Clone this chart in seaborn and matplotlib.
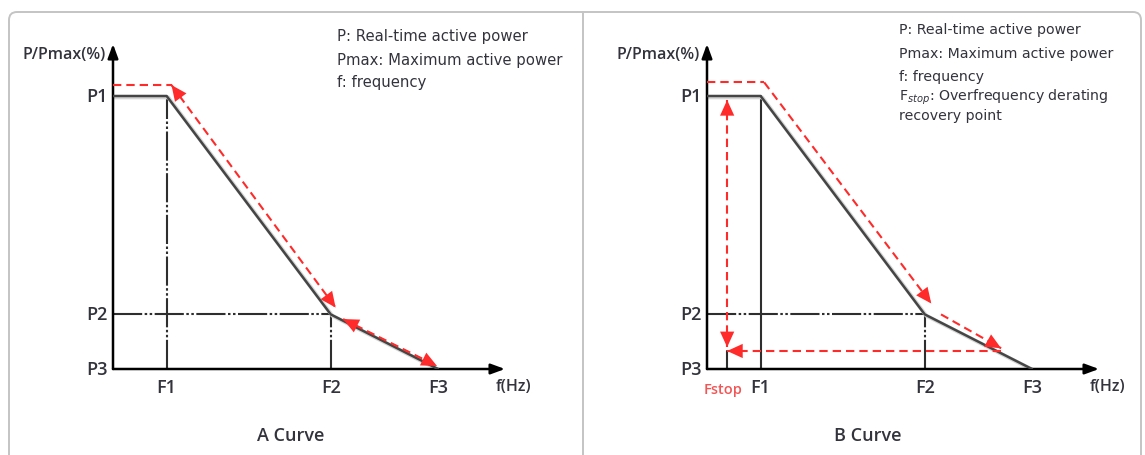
import numpy as np
import matplotlib
matplotlib.use("Agg")
import matplotlib.pyplot as plt
import seaborn as sns
from matplotlib.patches import FancyBboxPatch

# schematic positions (frequency: F3 = 1, power in % of Pmax)
freq_names = ['F1', 'F2', 'F3']
freq_vals = [0.165, 0.67, 1.0]
fstop = 0.062
power_names = ['P1', 'P2', 'P3']
power_vals = [100, 20, 0]
p_recover = 6.6

# red dashed paths (x, y)
red_a_top = [(0, 104), (0.18, 104)]
red_a_diag = [(0.18, 104), (0.685, 22.5)]
red_a_tail = [(0.708, 18.3), (0.997, 1.1)]
red_b_top = [(0, 105), (0.176, 105)]
red_b_diag = [(0.176, 105), (0.69, 24)]
red_b_tail = [(0.72, 20), (0.905, 7.6)]
red_b_back = [(0.905, p_recover), (fstop, p_recover)]
red_b_up = [(fstop, 8.0), (fstop, 98.5)]

notes_a = ['P: Real-time active power', 'Pmax: Maximum active power', 'f: frequency']
notes_b = notes_a + ['F$_{stop}$: Overfrequency derating', 'recovery point']

RED = '#ff2a2a'
INK = '#33333d'

sns.set_theme(style='white')
plt.rcParams['font.family'] = ['Open Sans', 'DejaVu Sans']
plt.rcParams['mathtext.fontset'] = 'dejavusans'

W, H = 1145, 456
fig = plt.figure(figsize=(W / 100, H / 100), dpi=100)

# background frame in pixel units
bg = fig.add_axes([0, 0, 1, 1])
bg.set_xlim(0, W)
bg.set_ylim(H, 0)
bg.set_axis_off()
bg.add_patch(FancyBboxPatch((9, 13), 1132, 470, boxstyle='round,pad=0,rounding_size=8',
                            fc='white', ec='#c4c4c4', lw=1.4))
bg.plot([583, 583], [13, H], color='#c4c4c4', lw=1.4)


def px_axes(x0, y0, w, h):
    return fig.add_axes([x0 / W, 1 - (y0 + h) / H, w / W, h / H])


def seg(ax, pts, heads=(False, True)):
    (x0, y0), (x1, y1) = pts
    ax.plot([x0, x1], [y0, y1], color=RED, lw=1.5, dashes=(4, 2.4), zorder=4, clip_on=False)
    style = dict(arrowstyle='-|>,head_length=0.7,head_width=0.32', color=RED, lw=0,
                 shrinkA=0, shrinkB=0, mutation_scale=16)
    if heads[1]:
        ax.annotate('', xy=(x1, y1), xytext=(x0, y0), arrowprops=style, zorder=5)
    if heads[0]:
        ax.annotate('', xy=(x0, y0), xytext=(x1, y1), arrowprops=style, zorder=5)


def panel(x_origin, notes, note_x, note_y, note_size, title, title_x, b_curve):
    ax = px_axes(x_origin, 45, 392, 325)
    ax.set_xlim(0, 392 / 325)
    ax.set_ylim(0, 325 / 2.73)
    ax.set_axis_off()
    ax.patch.set_alpha(0)

    f1, f2, f3 = freq_vals
    p1, p2, p3 = power_vals

    # axes with arrows
    arrow = dict(arrowstyle='-|>,head_length=0.6,head_width=0.22', color='black',
                 lw=1.8, shrinkA=0, shrinkB=0, mutation_scale=14)
    ax.annotate('', xy=(1, 0), xytext=(0, 0), xycoords='axes fraction', arrowprops=arrow)
    ax.annotate('', xy=(0, 1), xytext=(0, 0), xycoords='axes fraction', arrowprops=arrow)

    # guide lines
    guide = dict(color='#2e2e2e', lw=1.5, zorder=2)
    dd = (0, (14, 1.2, 1.2, 1.2, 1.2, 1.2))
    ax.plot([f1, f1], [0, p1], linestyle='-' if b_curve else dd, **guide)
    ax.plot([f2, f2], [0, p2], linestyle=dd, **guide)
    ax.plot([0, f2], [p2, p2], linestyle=dd, **guide)
    if b_curve:
        ax.plot([fstop, fstop], [0, p_recover], color='#2e2e2e', lw=1.5)

    # characteristic curve with soft shadow
    cx = [0, f1, f2, f3]
    cy = [p1, p1, p2, p3]
    sns.lineplot(x=np.array(cx) + 0.005, y=np.array(cy) - 0.5, sort=False, estimator=None,
                 color='#d6d6d6', lw=2.8, ax=ax, zorder=2)
    sns.lineplot(x=cx, y=cy, sort=False, estimator=None, color='#454545', lw=1.8, ax=ax, zorder=3)

    # labels
    lab = dict(fontsize=13, color=INK, fontweight='semibold')
    for name, p in zip(power_names, power_vals):
        ax.annotate(name, xy=(0, p), xytext=(-5, 0), textcoords='offset pixels',
                    ha='right', va='center', **lab)
    for name, f in zip(freq_names, freq_vals):
        ax.annotate(name, xy=(f, 0), xytext=(0, -18), textcoords='offset pixels',
                    ha='center', va='center', **lab)
    ax.annotate('P/Pmax(%)', xy=(0, 1), xycoords='axes fraction', xytext=(-7, -10),
                textcoords='offset pixels', ha='right', va='center', fontsize=11.5,
                color=INK, fontweight='semibold')
    ax.annotate('f(Hz)', xy=(1, 0), xycoords='axes fraction', xytext=(-9, -17),
                textcoords='offset pixels', ha='left', va='center', fontsize=11.5,
                color=INK, fontweight='semibold')
    if b_curve:
        ax.annotate('Fstop', xy=(fstop, 0), xytext=(-4, -20), textcoords='offset pixels',
                    ha='center', va='center', fontsize=10.5, color='#f25555',
                    fontweight='semibold')

    for txt, y in zip(notes, note_y):
        bg.text(note_x, y, txt, fontsize=note_size, color=INK, va='center', ha='left',
                family=['DejaVu Sans'])
    bg.text(title_x, 436, title, fontsize=13, color=INK, ha='center', va='center',
            fontweight='semibold')
    return ax


ax_a = panel(113, notes_a, 337, [37, 60, 82], 10.7, 'A Curve', 291, False)
seg(ax_a, red_a_top, heads=(False, False))
seg(ax_a, red_a_diag, heads=(True, True))
seg(ax_a, red_a_tail, heads=(True, True))

ax_b = panel(707, notes_b, 899, [30, 54, 77, 97, 116], 10.2, 'B Curve', 868, True)
seg(ax_b, red_b_top, heads=(False, False))
seg(ax_b, red_b_diag, heads=(False, True))
seg(ax_b, red_b_tail, heads=(False, True))
seg(ax_b, red_b_back, heads=(False, True))
seg(ax_b, red_b_up, heads=(True, True))

fig.savefig('out.png', dpi=100)
